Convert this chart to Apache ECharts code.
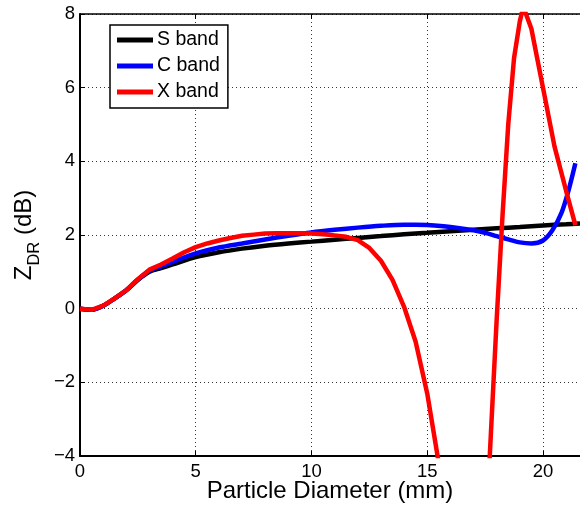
<!DOCTYPE html>
<html>
<head>
<meta charset="utf-8">
<script src="https://cdn.jsdelivr.net/npm/echarts@6/dist/echarts.min.js"></script>
<style>
  html, body { margin: 0; padding: 0; background: #fff; }
  #chart { width: 580px; height: 507px; }
</style>
</head>
<body>
<div id="chart"></div>
<script>
// Differential reflectivity versus particle diameter at three radar bands
const xTicks = [0, 5, 10, 15, 20];
const yTicks = [-4, -2, 0, 2, 4, 6, 8];

const sBandD = [0, 0.5, 1, 1.5, 2, 2.5, 3, 3.5, 4, 5, 6, 7, 8, 9, 10, 11, 12, 13, 14, 15, 16, 17, 18, 19, 20, 21, 21.6];
const sBandZ = [0, -0.03, 0.08, 0.28, 0.5, 0.78, 1.0, 1.1, 1.2, 1.4, 1.53, 1.63, 1.71, 1.77, 1.82, 1.87, 1.92, 1.97, 2.02, 2.06, 2.1, 2.14, 2.18, 2.22, 2.26, 2.29, 2.31];

const cBandD = [0, 0.5, 1, 1.5, 2, 2.5, 3, 3.5, 4, 5, 6, 7, 8, 9, 10, 11, 12, 13, 14, 14.5, 15, 16, 17, 17.5, 18, 18.5, 19, 19.5, 20, 20.4, 20.8, 21.1, 21.4];
const cBandZ = [0, -0.03, 0.08, 0.28, 0.5, 0.79, 1.03, 1.15, 1.27, 1.5, 1.66, 1.77, 1.88, 1.98, 2.07, 2.14, 2.2, 2.25, 2.28, 2.28, 2.27, 2.22, 2.13, 2.06, 1.97, 1.88, 1.8, 1.77, 1.85, 2.12, 2.6, 3.2, 3.95];

const xBandD = [0, 0.5, 1, 1.5, 2, 2.5, 3, 3.5, 4, 4.5, 5, 5.5, 6, 6.5, 7, 7.5, 8, 8.5, 9, 9.5, 10, 10.5, 11, 11.5, 12, 12.5, 13, 13.5, 14, 14.5, 15, 15.5, 16, 17, 17.5, 17.75, 18, 18.25, 18.5, 18.75, 19, 19.15, 19.5, 20, 20.5, 21, 21.4];
const xBandZ = [0, -0.03, 0.08, 0.28, 0.5, 0.8, 1.06, 1.2, 1.36, 1.53, 1.67, 1.77, 1.85, 1.92, 1.98, 2.01, 2.04, 2.05, 2.05, 2.05, 2.04, 2.02, 1.99, 1.95, 1.86, 1.65, 1.3, 0.78, 0.05, -0.9, -2.3, -4.2, -8, -12, -6.5, -3.4, -0.3, 2.5, 5.0, 6.8, 7.8, 8.2, 7.6, 6.0, 4.4, 3.2, 2.27];

const bandNames = ['S band', 'C band', 'X band'];
const bandColors = ['#000000', '#0000ff', '#ff0000'];

const pairs = (xs, ys) => xs.map((x, i) => [x, ys[i]]);
const font = 'Liberation Sans, Arial, Helvetica, sans-serif';
const minus = v => String(v).replace('-', '\u2212');

const chart = echarts.init(document.getElementById('chart'), null, { renderer: 'canvas' });

const lineSeries = (name, color, xs, ys, smooth) => ({
  name: name,
  type: 'line',
  data: pairs(xs, ys),
  showSymbol: false,
  symbol: 'none',
  smooth: smooth,
  clip: true,
  lineStyle: { color: color, width: 4.5 },
  itemStyle: { color: color },
  z: 3
});

chart.setOption({
  animation: false,
  backgroundColor: '#ffffff',
  grid: { left: 80, right: 0, top: 14, bottom: 51, containLabel: false, outerBoundsMode: 'none' },
  legend: {
    left: 110,
    top: 25,
    orient: 'vertical',
    data: bandNames,
    icon: 'rect',
    itemWidth: 36,
    itemHeight: 5,
    itemGap: 6,
    padding: [5, 8, 6, 7],
    backgroundColor: '#ffffff',
    borderColor: '#000000',
    borderWidth: 1.5,
    borderRadius: 0,
    textStyle: { fontFamily: font, fontSize: 19.5, color: '#000', padding: [0, 0, 0, -1] }
  },
  xAxis: [{
    type: 'value',
    min: 0,
    max: 21.6,
    interval: 5,
    name: 'Particle Diameter (mm)',
    nameLocation: 'middle',
    nameGap: 23,
    nameMoveOverlap: false,
    nameTextStyle: { fontFamily: font, fontSize: 24, color: '#000' },
    axisLine: { show: true, onZero: false, lineStyle: { color: '#000', width: 2 } },
    axisTick: { show: true, inside: true, length: 5, lineStyle: { color: '#000' } },
    axisLabel: {
      fontFamily: font, fontSize: 18.5, color: '#000', margin: 6,
      showMaxLabel: false,
      formatter: v => (xTicks.includes(v) ? minus(v) : '')
    },
    splitLine: { show: true, lineStyle: { color: '#333', width: 1, type: [1, 3] } }
  }, {
    type: 'value',
    position: 'top',
    min: 0,
    max: 21.6,
    interval: 5,
    axisLine: { show: true, onZero: false, lineStyle: { color: '#000', width: 1.5 } },
    axisTick: { show: true, inside: true, length: 5, lineStyle: { color: '#000' } },
    axisLabel: { show: false },
    splitLine: { show: false }
  }],
  yAxis: {
    type: 'value',
    min: -4,
    max: 8,
    interval: 2,
    name: '{a|Z}{b|DR}{a| (dB)}',
    nameLocation: 'middle',
    nameGap: 35,
    nameTextStyle: {
      fontFamily: font, color: '#000',
      rich: {
        a: { fontFamily: font, fontSize: 24, color: '#000', lineHeight: 26, verticalAlign: 'top' },
        b: { fontFamily: font, fontSize: 16.5, color: '#000', lineHeight: 16, padding: [14, 0, 0, 0], verticalAlign: 'top' }
      }
    },
    axisLine: { show: true, onZero: false, lineStyle: { color: '#000', width: 2 } },
    axisTick: { show: true, inside: true, length: 5, lineStyle: { color: '#000' } },
    axisLabel: {
      fontFamily: font, fontSize: 18.5, color: '#000', margin: 5,
      formatter: v => (yTicks.includes(v) ? minus(v) : '')
    },
    splitLine: { show: true, lineStyle: { color: '#333', width: 1, type: [1, 3] } }
  },
  series: [
    lineSeries(bandNames[0], bandColors[0], sBandD, sBandZ, 0.3),
    lineSeries(bandNames[1], bandColors[1], cBandD, cBandZ, 0.3),
    lineSeries(bandNames[2], bandColors[2], xBandD, xBandZ, false)
  ]
});
</script>
</body>
</html>
